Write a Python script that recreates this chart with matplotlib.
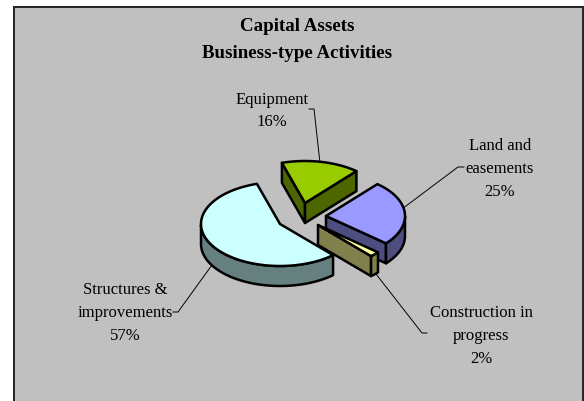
import numpy as np
import matplotlib
matplotlib.use("Agg")
import matplotlib.pyplot as plt
from matplotlib.patches import Polygon, Rectangle

title = "Capital Assets\nBusiness-type Activities"
categories = ["Equipment", "Land and\neasements", "Construction in\nprogress", "Structures &\nimprovements"]
shares = [16, 25, 2, 57]
top_colors = ["#99CC00", "#9999FF", "#FFFF99", "#CCFFFF"]
side_colors = ["#4D6600", "#4D4D80", "#80804D", "#668080"]
offsets = [(25, -21), (46, -8), (38, 1), (0, 0)]
label_pos = [(272, 99.5), (500, 146.5), (481, 313.5), (125, 290.5)]
leaders = [[(320, 164), (314, 110), (309, 110)],
           [(402, 210), (458, 168), (464, 168)],
           [(376, 275), (422, 334), (427, 334)],
           [(212, 266), (178, 313), (173, 313)]]
draw_order = [0, 1, 3, 2]

CX, CY, RX, RY, DEPTH = 280, 225, 79, 42, 20
START = 107.0
LW = 1.8

plt.rcParams["font.family"] = ["Liberation Serif", "DejaVu Serif"]
fig = plt.figure(figsize=(5.84, 4.02), dpi=100, facecolor="white")
ax = fig.add_axes([0, 0, 1, 1])
ax.set_xlim(0, 584)
ax.set_ylim(402, 0)
ax.axis("off")
ax.add_patch(Rectangle((13.5, 8), 569.5, 410, fc="#C0C0C0", ec="#222222", lw=1.4, zorder=0))


def rim(t, ox, oy, dz=0):
    r = np.radians(t)
    return np.column_stack([CX + ox + RX * np.cos(r), CY + oy - RY * np.sin(r) + dz])


starts = START - np.concatenate([[0], np.cumsum(shares)[:-1]]) * 3.6
z = 2
for i in draw_order:
    t0 = starts[i]
    t1 = t0 - shares[i] * 3.6
    ox, oy = offsets[i]
    apex = np.array([CX + ox, CY + oy], float)
    arc = np.linspace(t0, t1, 120)
    pts = rim(arc, ox, oy)
    mid = rim(np.array([(t0 + t1) / 2]), ox, oy)[0]
    down = np.array([0, DEPTH])
    # cut faces: visible when the wedge lies above the edge on screen
    for edge_t in (t0, t1):
        r = rim(np.array([edge_t]), ox, oy)[0]
        a, b = (apex, r) if apex[0] < r[0] else (r, apex)
        yline = a[1] + (b[1] - a[1]) * (mid[0] - a[0]) / (b[0] - a[0])
        if mid[1] < yline:
            ax.add_patch(Polygon([apex, r, r + down, apex + down], closed=True,
                                 fc=side_colors[i], ec="black", lw=LW, joinstyle="round", zorder=z))
            z += 1
    # outer wall: front half of the rim only
    vis = arc[np.sin(np.radians(arc)) < 0]
    if vis.size > 1:
        up = rim(vis, ox, oy)
        lo = rim(vis, ox, oy, DEPTH)
        ax.add_patch(Polygon(np.vstack([up, lo[::-1]]), closed=True,
                             fc=side_colors[i], ec="black", lw=LW, joinstyle="round", zorder=z))
        z += 1
    ax.add_patch(Polygon(np.vstack([apex, pts]), closed=True, fc=top_colors[i],
                         ec="black", lw=LW, joinstyle="round", zorder=z))
    z += 1

for i, name in enumerate(categories):
    lines = name.split("\n") + [f"{shares[i]}%"]
    x, y = label_pos[i]
    for k, line in enumerate(lines):
        ax.text(x, y + k * 23, line, ha="center", va="center", fontsize=12, color="black", zorder=50)
    xs, ys = zip(*leaders[i])
    ax.plot(xs, ys, color="black", lw=0.7, zorder=1)

for k, line in enumerate(title.split("\n")):
    ax.text(297.5, 26.5 + k * 26.5, line, ha="center", va="center", fontsize=13.6,
            fontweight="bold", color="black", zorder=50)

fig.savefig("out.png", dpi=100, facecolor="white")
